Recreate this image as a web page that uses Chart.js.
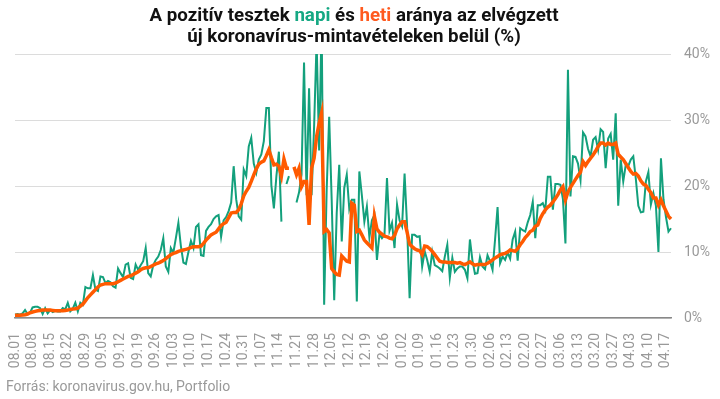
<!DOCTYPE html>
<html><head><meta charset="utf-8">
<script src="https://cdn.jsdelivr.net/npm/chart.js@4"></script>
<style>
html,body{margin:0;padding:0;background:#fff;width:720px;height:399px;overflow:hidden;font-family:Roboto,sans-serif}
#wrap{position:relative;width:720px;height:399px}
#title{position:absolute;left:0;top:4px;width:708px;text-align:center;font-weight:700;font-size:19px;line-height:21px;color:#111;transform:scaleX(0.985);transform-origin:354px 0;white-space:nowrap}
.napi{color:#15a883}.heti{color:#ff5a1f}
#src{position:absolute;left:6px;top:378px;font-size:14px;color:#999}
canvas{position:absolute;left:0;top:0}
</style></head>
<body><div id="wrap">
<canvas id="c" width="720" height="399"></canvas>
<div id="title">A pozitív tesztek <span class="napi">napi</span> és <span class="heti">heti</span> aránya az elvégzett<br>új koronavírus-mintavételeken belül (%)</div>
<div id="src">Forrás: koronavirus.gov.hu, Portfolio</div>
</div>
<script>
// tick labels shown on the x axis
const tickLabels = ['08.01','08.08','08.15','08.22','08.29','09.05','09.12','09.19','09.26','10.03','10.10','10.17','10.24','10.31','11.07','11.14','11.21','11.28','12.05','12.12','12.19','12.26','01.02','01.09','01.16','01.23','01.30','02.06','02.13','02.20','02.27','03.06','03.13','03.20','03.27','04.03','04.10','04.17'];

// daily positive ratio (%), 2020-08-01 .. 2021-04-19
const napi = [
 0.5, 0.6, 0.5, 0.7, 1.2, 0.6, 0.8, 1.6, 1.7, 1.7,
 1.5, 0.6, 1.5, 0.7, 1.2, 0.9, 1.1, 1.0, 1.0, 1.5,
 1.3, 2.3, 1.0, 1.4, 2.3, 1.0, 2.3, 2.0, 4.7, 4.5,
 4.5, 6.5, 4.3, 4.1, 6.3, 6.2, 5.3, 5.6, 5.4, 4.8,
 4.6, 7.5, 6.8, 6.2, 8.1, 8.3, 6.1, 5.9, 8.1, 7.3,
 8.0, 8.6, 10.6, 6.8, 6.3, 8.0, 8.8, 9.3, 10.3, 12.1,
 7.8, 7.0, 10.6, 9.9, 12.1, 14.4, 10.9, 8.4, 8.2, 10.0,
 11.7, 10.6, 13.8, 14.2, 9.5, 9.4, 13.2, 13.8, 14.2, 15.0,
 15.4, 15.6, 12.3, 14.8, 15.3, 16.2, 17.5, 23.0, 18.0, 15.4,
 14.9, 22.5, 21.5, 26.0, 27.3, 23.4, 22.0, 24.0, 24.8, 26.8,
 31.8, 31.8, 20.1, 16.6, 21.5, 25.2, 14.6, null, 20.3, 21.5,
 null, null, 17.5, 19.0, 21.7, 38.7, 18.6, 34.8, 18.6, 29.0,
 42.0, 25.4, 45.0, 2.0, 19.4, 30.5, 17.9, 2.7, 15.9, 23.2,
 11.6, 19.7, 21.7, 16.5, 17.9, 17.9, 2.5, 22.2, 18.6, 14.6,
 16.9, 12.2, 14.8, 15.6, 8.8, 12.7, 12.1, 12.6, 21.2, 13.2,
 14.4, 10.6, 17.2, 14.8, 13.9, 21.9, 13.9, 3.0, 12.6, 12.6,
 12.3, 12.4, 7.8, 10.1, 8.8, 7.0, 10.0, 8.0, 7.8, 7.5,
 7.1, 9.3, 11.1, 6.1, 9.1, 7.0, 7.5, 7.8, 7.8, 7.3,
 6.0, 11.9, 8.7, 6.7, 6.8, 9.2, 7.8, 7.4, 9.5, 8.6,
 7.3, 11.9, 16.8, 8.3, 9.3, 8.8, 9.9, 9.0, 11.9, 13.1,
 8.7, 13.6, 13.3, 13.1, 14.5, 15.6, 17.6, 12.1, 17.1, 17.1,
 17.4, 16.4, 21.4, 21.4, 16.4, 20.3, 20.3, 20.2, 18.0, 11.3,
 37.6, 18.4, 24.5, 24.4, 23.4, 20.9, 28.1, 27.5, 25.6, 24.5,
 27.0, 27.4, 25.5, 28.6, 28.2, 22.7, 27.2, 27.9, 24.0, 31.0,
 17.0, 24.0, 20.7, 23.2, 23.0, 24.0, 24.5, 21.1, 17.0, 16.0,
 16.1, 20.7, 22.1, 17.2, 18.9, 17.0, 10.0, 24.2, 18.0, 15.3,
 13.1, 13.6
];

// weekly positive ratio (%)
const heti = [
 0.4, 0.4, 0.4, 0.45, 0.5, 0.6, 0.8, 0.9, 1.0, 1.1,
 1.15, 1.2, 1.2, 1.2, 1.2, 1.15, 1.1, 1.1, 1.1, 1.1,
 1.15, 1.2, 1.3, 1.35, 1.4, 1.5, 1.8, 2.1, 2.6, 3.1,
 3.5, 3.9, 4.3, 4.7, 5.0, 5.1, 5.2, 5.2, 5.2, 5.2,
 5.3, 5.5, 5.7, 5.9, 6.1, 6.3, 6.4, 6.6, 6.8, 7.0,
 7.3, 7.5, 7.6, 7.6, 7.8, 8.0, 8.2, 8.3, 8.5, 8.7,
 9.0, 9.3, 9.6, 9.8, 9.9, 10.1, 10.2, 10.3, 10.4, 10.5,
 10.7, 10.8, 10.8, 10.8, 10.9, 11.3, 11.8, 12.2, 12.6, 12.8,
 13.0, 13.5, 14.0, 14.3, 14.5, 15.2, 15.9, 16.0, 16.0, 16.4,
 17.3, 18.5, 19.2, 19.8, 20.7, 21.7, 22.6, 23.3, 23.6, 23.8,
 24.6, 25.5, 24.3, 23.2, 23.3, 23.0, 21.5, 24.1, 22.7, 22.7,
 null, 22.9, 21.7, 22.7, 19.9, 20.7, 20.7, 14.1, 22.7, 24.2,
 27.5, 29.5, 31.1, 13.1, 13.4, 12.9, 7.5, 7.0, 6.6, 6.5,
 9.4, 9.0, 8.6, 8.5, 17.4, 17.1, 13.1, 13.3, 12.6, 11.8,
 11.4, 11.0, 10.6, 15.4, 13.5, 13.0, 12.7, 12.4, 12.3, 12.1,
 12.0, 12.5, 13.5, 14.1, 14.6, 14.6, 13.0, 11.2, 10.8, 10.5,
 10.3, 10.2, 9.6, 10.9, 10.8, 10.5, 10.1, 9.6, 9.1, 8.6,
 8.5, 8.5, 8.4, 8.4, 8.4, 8.4, 8.3, 8.4, 8.2, 8.1,
 8.3, 8.5, 8.2, 8.0, 8.1, 8.1, 8.1, 8.1, 8.3, 8.5,
 8.8, 9.1, 9.3, 9.6, 9.7, 9.8, 10.0, 10.3, 10.2, 10.1,
 10.5, 11.1, 11.6, 12.2, 12.6, 13.1, 13.3, 13.9, 14.1, 15.1,
 15.8, 16.4, 16.8, 17.1, 17.6, 18.1, 18.7, 19.4, 19.9, 17.9,
 19.1, 19.8, 20.4, 21.0, 21.6, 22.1, 23.7, 23.1, 23.7, 24.2,
 24.7, 25.3, 26.0, 26.5, 26.5, 26.2, 26.5, 26.3, 26.3, 26.5,
 24.8, 24.4, 24.0, 23.4, 22.8, 22.2, 21.8, 21.9, 21.5, 20.8,
 20.3, 20.1, 19.5, 19.0, 18.2, 18.2, 17.1, 17.9, 17.0, 16.2,
 15.4, 15.0
];

// categories: one per day starting 2020-08-01
const categories = [];
for (let i = 0; i < napi.length; i++) {
  const d = new Date(Date.UTC(2020, 7, 1 + i));
  categories.push(String(d.getUTCMonth() + 1).padStart(2, '0') + '.' + String(d.getUTCDate()).padStart(2, '0'));
}
const tickSet = new Set(tickLabels);

new Chart(document.getElementById('c'), {
  type: 'line',
  data: {
    labels: categories,
    datasets: [
      { label: 'heti', data: heti, borderColor: '#ff5a00', borderWidth: 3.5, pointRadius: 0, tension: 0, spanGaps: false },
      { label: 'napi', data: napi, borderColor: '#13a07c', borderWidth: 2, pointRadius: 0, tension: 0, spanGaps: false }
    ]
  },
  options: {
    responsive: false, animation: false,
    layout: { padding: { left: 15, right: 1, top: 54, bottom: 0 } },
    plugins: { legend: { display: false }, tooltip: { enabled: false } },
    scales: {
      x: {
        grid: { display: false },
        border: { display: true, color: '#888', width: 1.5 },
        ticks: {
          autoSkip: false, minRotation: 90, maxRotation: 90, color: '#999', padding: 7,
          font: { family: 'Roboto', size: 14 },
          callback: (v, i) => tickSet.has(categories[i]) ? categories[i] : null
        },
        afterFit: s => { s.height = 81; }
      },
      y: {
        position: 'right', min: 0, max: 40,
        grid: { color: '#dcdcdc', drawTicks: false },
        border: { display: false },
        ticks: { stepSize: 10, color: '#999', padding: 13, font: { family: 'Roboto', size: 14 }, callback: v => v + '%' },
        afterFit: s => { s.width = 48; }
      }
    }
  }
});
</script>
</body></html>
